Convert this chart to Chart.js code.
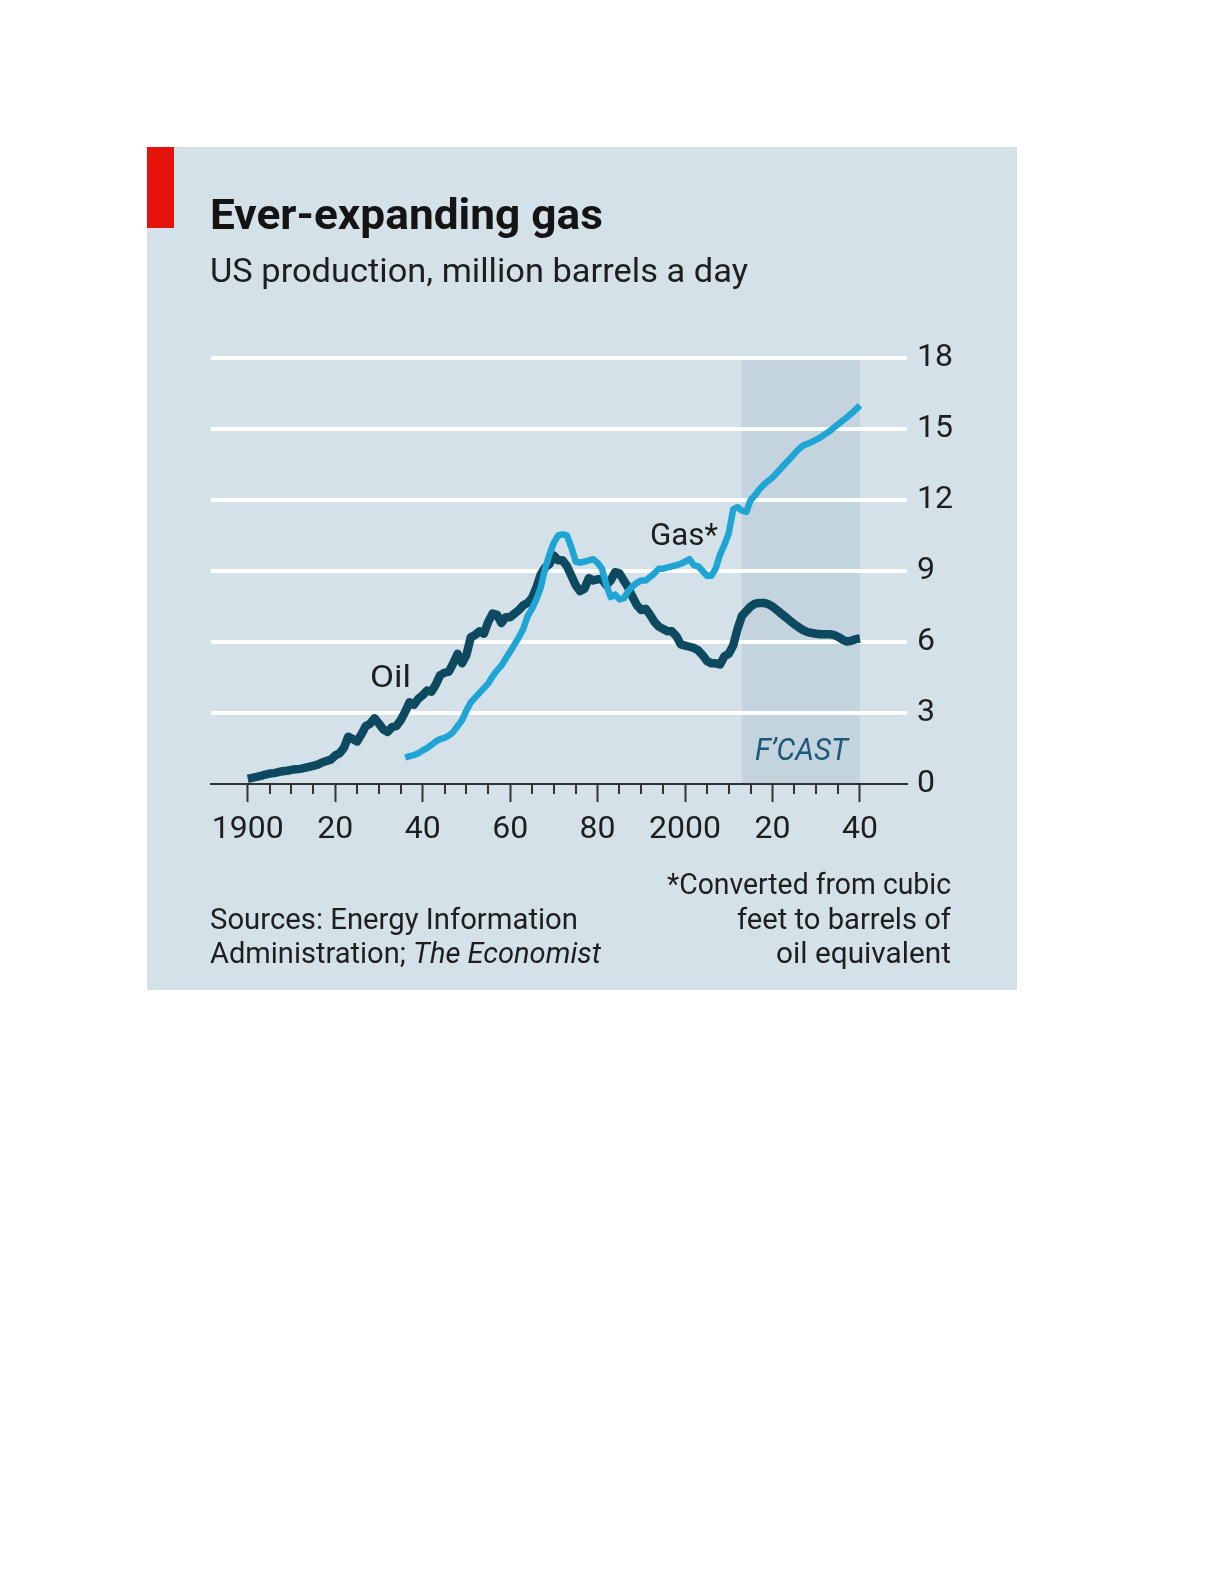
<!DOCTYPE html>
<html>
<head>
<meta charset="utf-8">
<script src="https://cdn.jsdelivr.net/npm/chart.js@4.4.1/dist/chart.umd.min.js"></script>
<style>
html,body{margin:0;padding:0;background:#ffffff;}
#wrap{position:relative;width:1224px;height:1584px;}
</style>
</head>
<body>
<div id="wrap"><canvas id="c"></canvas></div>
<script>
// ---------- DATA ----------
const oilStartYear = 1900;
const oilValues = [
  0.22,0.26,0.30,0.34,0.40,0.44,0.46,0.50,0.54,0.56,
  0.60,0.62,0.64,0.68,0.72,0.77,0.82,0.91,0.97,1.03,
  1.20,1.30,1.53,2.00,1.90,1.80,2.10,2.45,2.55,2.78,
  2.55,2.30,2.20,2.40,2.45,2.70,3.05,3.45,3.35,3.60,
  3.75,3.95,3.90,4.20,4.60,4.70,4.75,5.10,5.50,5.10,
  5.45,6.20,6.30,6.45,6.35,6.85,7.20,7.15,6.80,7.05,
  7.05,7.20,7.35,7.55,7.65,7.85,8.30,8.85,9.15,9.30,
  9.65,9.45,9.45,9.20,8.80,8.40,8.15,8.25,8.70,8.60,
  8.65,8.65,8.40,8.60,8.95,8.90,8.60,8.30,7.90,7.55,
  7.35,7.40,7.15,6.85,6.65,6.55,6.45,6.45,6.25,5.90,
  5.85,5.80,5.75,5.65,5.45,5.20,5.10,5.10,5.05,5.40,
  5.50,5.85,6.55,7.10,7.30,7.50,7.62,7.65,7.65,7.60,
  7.50,7.35,7.20,7.05,6.90,6.75,6.62,6.50,6.42,6.38,
  6.35,6.33,6.33,6.33,6.30,6.22,6.10,6.02,6.05,6.12,6.15
];
const gasStartYear = 1936;
const gasValues = [
  1.12,1.18,1.22,1.30,
  1.42,1.52,1.65,1.80,1.90,1.95,2.05,2.20,2.45,2.70,
  3.10,3.45,3.65,3.85,4.05,4.25,4.55,4.80,5.00,5.30,
  5.60,5.90,6.20,6.55,7.10,7.40,7.80,8.30,9.10,9.70,
  10.20,10.50,10.55,10.50,10.00,9.40,9.35,9.40,9.45,9.50,
  9.35,9.10,8.40,7.90,8.00,7.80,7.85,8.15,8.35,8.50,
  8.60,8.60,8.75,8.90,9.10,9.10,9.15,9.20,9.25,9.30,
  9.40,9.50,9.25,9.20,9.00,8.80,8.80,9.10,9.70,10.10,
  10.60,11.60,11.70,11.55,11.50,12.00,12.20,12.45,12.65,12.80,
  12.95,13.15,13.35,13.55,13.75,13.95,14.15,14.30,14.38,14.45,
  14.55,14.65,14.78,14.90,15.05,15.20,15.35,15.50,15.65,15.82,16.00
];
const xTickYears = [1900,1905,1910,1915,1920,1925,1930,1935,1940,1945,1950,1955,1960,1965,1970,1975,1980,1985,1990,1995,2000,2005,2010,2015,2020,2025,2030,2035,2040];
const xMajorYears = [1900,1920,1940,1960,1980,2000,2020,2040];
const xMajorLabels = ['1900','20','40','60','80','2000','20','40'];
const yTicks = [0,3,6,9,12,15,18];
const forecastRange = [2013, 2040];

// ---------- STYLE ----------
const FONT = 'Roboto';
const INK = '#1e1e1e';
const OIL_COLOR = '#0e4a5f';
const GAS_COLOR = '#1fa5d4';

function fitText(ctx, parts, x, y, width, align, color) {
  let total = 0;
  parts.forEach(p => { ctx.font = p.font; p.w = ctx.measureText(p.text).width; total += p.w; });
  const s = width / total;
  ctx.save();
  const start = align === 'right' ? x - width : x;
  ctx.translate(start, y);
  ctx.scale(s, 1);
  ctx.textAlign = 'left';
  ctx.textBaseline = 'alphabetic';
  ctx.fillStyle = color || INK;
  let cx = 0;
  parts.forEach(p => { ctx.font = p.font; ctx.fillText(p.text, cx, 0); cx += p.w; });
  ctx.restore();
}

const panelPlugin = {
  id: 'panel',
  beforeDraw(chart) {
    const { ctx, scales: { x, y } } = chart;
    ctx.save();
    ctx.fillStyle = '#d5e1e8';
    ctx.fillRect(147, 147, 870, 843);
    ctx.fillStyle = '#e3120b';
    ctx.fillRect(147, 147, 27, 81);
    const x0 = x.getPixelForValue(forecastRange[0]);
    const x1 = x.getPixelForValue(forecastRange[1]);
    const yTop = y.getPixelForValue(yTicks[yTicks.length - 1]);
    const yBot = y.getPixelForValue(0);
    ctx.fillStyle = '#c3d4de';
    ctx.fillRect(x0, yTop, x1 - x0, yBot - yTop);
    ctx.restore();
  },
  afterDraw(chart) {
    const { ctx, scales: { x, y } } = chart;
    // minor ticks
    ctx.save();
    ctx.strokeStyle = '#333333';
    ctx.lineWidth = 2;
    const y0 = y.getPixelForValue(0);
    xTickYears.forEach(v => {
      if (xMajorYears.includes(v)) return;
      const px = Math.round(x.getPixelForValue(v));
      ctx.beginPath();
      ctx.moveTo(px, y0);
      ctx.lineTo(px, y0 + 10);
      ctx.stroke();
    });
    ctx.restore();

    fitText(ctx, [{ text: 'Ever-expanding gas', font: `bold 42px ${FONT}` }], 210, 229, 393, 'left', '#141414');
    fitText(ctx, [{ text: 'US production, million barrels a day', font: `33px ${FONT}` }], 210, 282, 538, 'left');
    fitText(ctx, [{ text: 'Oil', font: `32px ${FONT}` }], 370, 687, 41, 'left');
    fitText(ctx, [{ text: 'Gas*', font: `32px ${FONT}` }], 650, 545, 68, 'left');
    fitText(ctx, [{ text: 'F\u2019CAST', font: `italic 32px ${FONT}` }], 848, 760, 93, 'right', '#1b5a7a');
    fitText(ctx, [{ text: '*Converted from cubic', font: `30px ${FONT}` }], 951, 894, 284, 'right');
    fitText(ctx, [{ text: 'feet to barrels of', font: `30px ${FONT}` }], 951, 929, 214, 'right');
    fitText(ctx, [{ text: 'oil equivalent', font: `30px ${FONT}` }], 951, 963, 175, 'right');
    fitText(ctx, [{ text: 'Sources: Energy Information', font: `30px ${FONT}` }], 210, 929, 368, 'left');
    fitText(ctx, [{ text: 'Administration; ', font: `30px ${FONT}` }, { text: 'The Economist', font: `italic 30px ${FONT}` }], 210, 963, 391, 'left');
  }
};

const xMin = 1891.6, xMax = 2050.75;

new Chart(document.getElementById('c'), {
  type: 'line',
  data: {
    datasets: [
      {
        label: 'Gas*',
        data: gasValues.map((v, i) => ({ x: gasStartYear + i, y: v })),
        borderColor: GAS_COLOR, borderWidth: 6.5, pointRadius: 0, tension: 0,
        borderJoinStyle: 'round', order: 0
      },
      {
        label: 'Oil',
        data: oilValues.map((v, i) => ({ x: oilStartYear + i, y: v })),
        borderColor: OIL_COLOR, borderWidth: 8.5, pointRadius: 0, tension: 0,
        borderJoinStyle: 'round', order: 1
      }
    ]
  },
  options: {
    responsive: true,
    maintainAspectRatio: false,
    animation: false,
    layout: { padding: { left: 211, top: 358, right: 257, bottom: 740 } },
    plugins: { legend: { display: false }, tooltip: { enabled: false } },
    scales: {
      x: {
        type: 'linear', min: xMin, max: xMax,
        afterBuildTicks: s => { s.ticks = xTickYears.map(v => ({ value: v })); },
        afterFit: s => { s.height = 60; },
        ticks: {
          autoSkip: false, maxRotation: 0, minRotation: 0, padding: 9,
          font: { family: FONT, size: 32 }, color: INK,
          callback: v => { const i = xMajorYears.indexOf(v); return i >= 0 ? xMajorLabels[i] : ''; }
        },
        grid: {
          drawOnChartArea: false, drawTicks: true, tickLength: 18, tickWidth: 2,
          tickColor: c => (c.tick && xMajorYears.includes(c.tick.value)) ? '#333333' : 'rgba(0,0,0,0)'
        },
        border: { display: true, color: '#333333', width: 2 }
      },
      y: {
        position: 'right', min: 0, max: 18,
        afterBuildTicks: s => { s.ticks = yTicks.map(v => ({ value: v })); },
        afterFit: s => { s.width = 60; },
        ticks: { font: { family: FONT, size: 32 }, color: INK, padding: 10 },
        grid: {
          color: c => (c.tick && c.tick.value === 0) ? 'rgba(0,0,0,0)' : '#ffffff',
          lineWidth: 4, drawTicks: false
        },
        border: { display: false }
      }
    }
  },
  plugins: [panelPlugin]
});
</script>
</body>
</html>
